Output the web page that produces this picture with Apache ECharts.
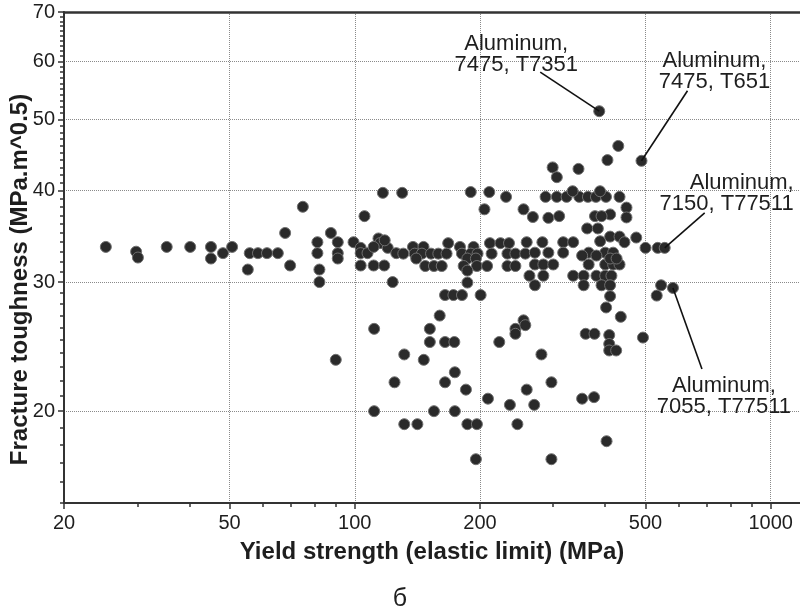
<!DOCTYPE html>
<html>
<head>
<meta charset="utf-8">
<script src="https://cdn.jsdelivr.net/npm/echarts@6/dist/echarts.min.js"></script>
<style>
  html, body { margin: 0; padding: 0; background: #fff; }
  #chart { width: 800px; height: 610px; }
</style>
</head>
<body>
<div id="chart"></div>
<script>
// yield strength (MPa) and fracture toughness (MPa.m^0.5)
var yieldStrength = [
  25.2, 29.8, 30.1, 35.3, 40.2, 45.1, 45.1, 48.2, 50.7, 55.3, 55.9, 58.5, 61.5, 65.3,
  68, 69.9, 75, 81.3, 81.3, 82.2, 82.2, 87.6, 91, 91, 91, 99.3, 103.3, 103.3, 107.3,
  103.3, 111, 117.7, 105.5, 114, 115, 111, 120, 125.8, 116.8, 123.3, 130, 118,
  138, 146.3, 167.7, 179, 193, 211.3, 224, 234.8, 259,
  130.8, 139.3, 145, 152.5, 158.8, 166.2, 181, 190, 197.3, 213.3, 232.8, 243.3, 257,
  140.5, 186.5, 195.5,
  147.7, 155, 161.8, 182.7, 196.6, 208, 232.8, 243.3,
  186.5, 263, 186.5,
  164.8, 172.6, 181, 200.7,
  190, 210.5, 231, 205, 254.5, 268, 292, 310,
  387, 430, 405, 489, 299, 306, 345,
  287.5, 306, 323, 346.5, 363.5, 380, 401.7, 433, 334, 388.7,
  450, 450, 411, 378, 392, 362, 384, 389, 411, 433, 445, 475, 500, 535, 556, 282.5, 317, 335,
  271, 292, 317, 365, 400, 418, 352, 381,
  271, 284, 300, 365, 400, 418, 433, 411, 426,
  284, 335, 355, 381, 400, 414,
  271, 355, 392, 411, 411, 545, 582, 532,
  160, 111.3, 151.5, 151.5, 164.8, 173.5, 131.5, 146.5, 90, 174, 164.8, 124.6,
  111.3, 155, 174, 131.5, 141.4, 186.5, 196.6, 195.5,
  222.5, 243.3, 243.3, 254.5, 257, 281, 297, 185, 259, 209, 236, 270, 246, 297,
  352, 376, 403, 402, 436, 359, 377, 409, 409, 409, 425, 493
];
var fractureToughness = [
  33.5, 33.0, 32.4, 33.5, 33.5, 33.5, 32.3, 32.85, 33.5, 31.2, 32.85, 32.85, 32.85, 32.85,
  35, 31.6, 38, 34, 32.85, 31.2, 30, 35, 34, 32.85, 32.3, 34, 33.4, 32.85, 32.85,
  31.6, 31.6, 31.6, 36.9, 34.4, 33.9, 33.5, 33.4, 32.85, 39.7, 30, 39.7, 34.2,
  33.5, 33.5, 33.9, 33.5, 33.5, 33.9, 33.9, 33.9, 34,
  32.8, 32.8, 32.8, 32.8, 32.8, 32.8, 32.8, 32.8, 32.8, 32.8, 32.8, 32.8, 32.8,
  32.3, 32.3, 32.3,
  31.55, 31.55, 31.55, 31.55, 31.55, 31.55, 31.55, 31.55,
  31.1, 30.6, 29.95,
  28.8, 28.8, 28.8, 28.8,
  39.8, 39.8, 39.2, 37.7, 37.7, 36.8, 36.7, 36.9,
  51.3, 46, 44, 43.9, 43, 41.7, 42.8,
  39.2, 39.2, 39.2, 39.2, 39.2, 39.2, 39.2, 39.2, 39.9, 39.9,
  37.9, 36.75, 37.1, 36.9, 36.9, 35.5, 35.5, 34.1, 34.6, 34.6, 34, 34.5, 33.4, 33.4, 33.4, 34, 34, 34,
  32.9, 32.9, 32.9, 32.9, 32.9, 32.9, 32.6, 32.6,
  31.7, 31.7, 31.7, 31.7, 31.7, 31.7, 31.7, 32.3, 32.3,
  30.6, 30.6, 30.6, 30.6, 30.6, 30.6,
  29.7, 29.7, 29.7, 29.7, 28.7, 29.7, 29.45, 28.75,
  27, 25.9, 25.9, 24.85, 24.85, 24.85, 23.9, 23.5, 23.5, 22.6, 21.9, 21.9,
  20, 20, 20, 19.2, 19.2, 19.2, 19.2, 17.2,
  24.85, 25.9, 25.5, 26.6, 26.2, 23.9, 21.9, 21.4, 21.4, 20.8, 20.4, 20.4, 19.2, 17.2,
  20.8, 20.9, 18.2, 27.7, 26.9, 25.5, 25.5, 25.4, 24.7, 24.2, 24.2, 25.2
];

// tick labels
var xMajorTicks = [20, 50, 100, 200, 500, 1000];
var xMinorTicks = [30, 40, 60, 70, 80, 90, 300, 400, 600, 700, 800, 900];
var yMajorTicks = [20, 30, 40, 50, 60, 70];
var yMinorTicks = [15, 16, 17, 18, 19, 21, 22, 23, 24, 25, 26, 27, 28, 29,
  31, 32, 33, 34, 35, 36, 37, 38, 39, 41, 42, 43, 44, 45, 46, 47, 48, 49,
  51, 52, 53, 54, 55, 56, 57, 58, 59, 61, 62, 63, 64, 65, 66, 67, 68, 69];

// labelled alloys
var annoLabels = ['Aluminum,\n7475, T7351', 'Aluminum,\n7475, T651', 'Aluminum,\n7150, T77511', 'Aluminum,\n7055, T77511'];
var annoPoints = [[387, 51.3], [489, 43.9], [556, 33.4], [582, 29.45]];

// leader line end / text anchor offsets in pixels from the point
var annoLayout = [
  { lx: -59, ly: -39, tx: -83, ty: -57, align: 'center' },
  { lx: 46, ly: -70, tx: 73, ty: -89, align: 'center' },
  { lx: 40, ly: -35, tx: 129, ty: -54, align: 'right' },
  { lx: 29, ly: 81, tx: 51, ty: 108, align: 'center' }
];

var FONT = '"Liberation Sans", Arial, Helvetica, sans-serif';
var INK = '#1e1e1e';

var points = yieldStrength.map(function (x, i) { return [x, fractureToughness[i]]; });

function fmt(v) { return String(Math.round(v)); }

var X_MIN = 19.99, X_MAX = 1176, Y_MIN = 14.99, Y_MAX = 70.05;

var option = {
  animation: false,
  backgroundColor: '#fff',
  title: {
    text: 'б',
    left: 'center',
    top: 582,
    textStyle: { fontFamily: FONT, fontSize: 25, fontWeight: 'normal', color: INK }
  },
  grid: { left: 64, right: 0, top: 12, bottom: 107, containLabel: false, outerBoundsMode: 'none' },
  xAxis: [
    {
      type: 'log', min: X_MIN, max: X_MAX, position: 'bottom',
      name: 'Yield strength (elastic limit) (MPa)',
      nameLocation: 'middle', nameGap: 37,
      nameTextStyle: { fontFamily: FONT, fontSize: 24, fontWeight: 'bold', color: INK },
      axisLine: { lineStyle: { color: '#333', width: 2 } },
      axisTick: { customValues: xMajorTicks, length: 6, lineStyle: { color: '#333', width: 1.5 } },
      axisLabel: { customValues: xMajorTicks, formatter: fmt, margin: 10,
        fontFamily: FONT, fontSize: 20, color: INK },
      splitLine: { show: true, lineStyle: { color: '#8a8a8a', type: 'dotted', width: 1 } }
    },
    {
      type: 'log', min: X_MIN, max: X_MAX, position: 'bottom',
      axisLine: { show: false },
      axisTick: { customValues: xMinorTicks, length: 4, lineStyle: { color: '#333', width: 1.5 } },
      axisLabel: { show: false },
      splitLine: { show: false }
    },
    {
      type: 'log', min: X_MIN, max: X_MAX, position: 'top',
      axisLine: { lineStyle: { color: '#333', width: 2.5 } },
      axisTick: { show: false },
      axisLabel: { show: false },
      splitLine: { show: false }
    }
  ],
  yAxis: [
    {
      type: 'log', min: Y_MIN, max: Y_MAX, position: 'left',
      name: 'Fracture toughness (MPa.m^0.5)',
      nameLocation: 'middle', nameGap: 32, nameRotate: 90, nameMoveOverlap: false,
      nameTextStyle: { fontFamily: FONT, fontSize: 24, fontWeight: 'bold', color: INK,
        padding: [0, 44, 0, 0] },
      axisLine: { lineStyle: { color: '#333', width: 2 } },
      axisTick: { customValues: yMajorTicks, length: 6, lineStyle: { color: '#333', width: 1.5 } },
      axisLabel: { customValues: yMajorTicks, formatter: fmt, margin: 9,
        fontFamily: FONT, fontSize: 20, color: INK },
      splitLine: { show: true, lineStyle: { color: '#8a8a8a', type: 'dotted', width: 1 } }
    },
    {
      type: 'log', min: Y_MIN, max: Y_MAX, position: 'left',
      axisLine: { show: false },
      axisTick: { customValues: yMinorTicks, length: 4, lineStyle: { color: '#333', width: 1.5 } },
      axisLabel: { show: false },
      splitLine: { show: false }
    }
  ],
  series: [
    {
      type: 'scatter',
      xAxisIndex: 0,
      yAxisIndex: 0,
      symbol: 'circle',
      symbolSize: 11,
      itemStyle: { color: '#2a2a2a', borderColor: '#707070', borderWidth: 1, opacity: 1 },
      data: points
    }
  ]
};

var myChart = echarts.init(document.getElementById('chart'), null, { renderer: 'canvas' });
myChart.setOption(option);

// leader lines and their labels, anchored on the data points
var graphics = [];
annoPoints.forEach(function (pt, i) {
  var p = myChart.convertToPixel({ seriesIndex: 0 }, pt);
  var L = annoLayout[i];
  graphics.push({
    type: 'line',
    shape: { x1: p[0], y1: p[1], x2: p[0] + L.lx, y2: p[1] + L.ly },
    style: { stroke: '#111', lineWidth: 1.6 },
    z: 10
  });
  graphics.push({
    type: 'text',
    x: p[0] + L.tx,
    y: p[1] + L.ty,
    style: {
      text: annoLabels[i],
      align: L.align,
      verticalAlign: 'middle',
      font: '22px ' + FONT,
      lineHeight: 21,
      fill: INK
    },
    z: 11
  });
});
myChart.setOption({ graphic: graphics });
</script>
</body>
</html>
